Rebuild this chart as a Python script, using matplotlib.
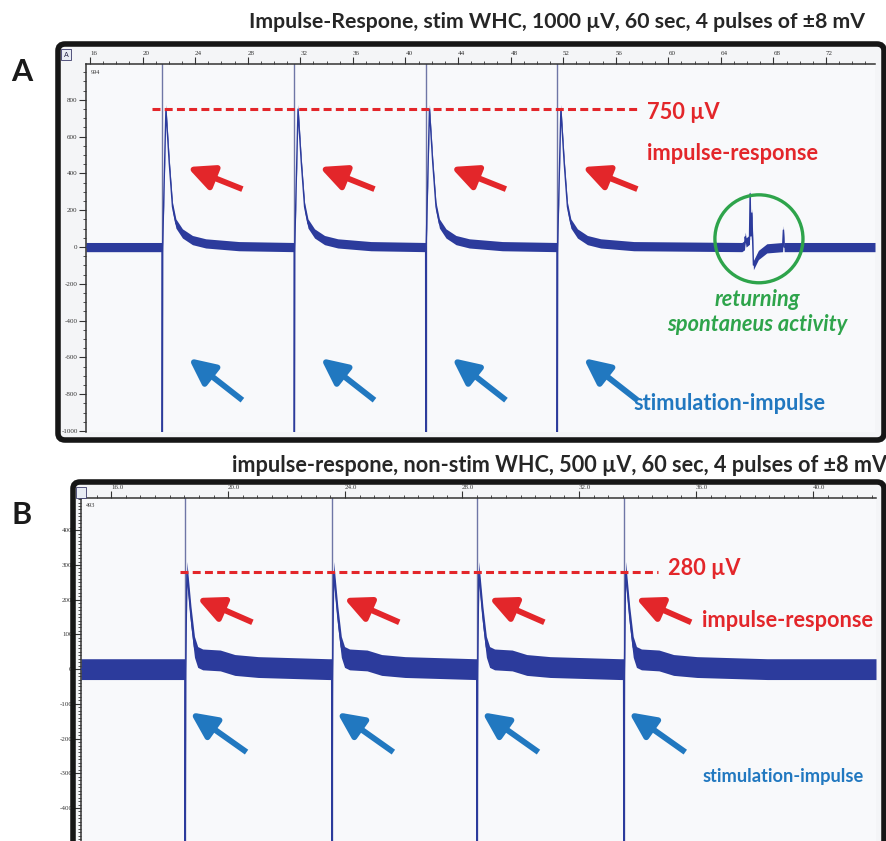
import numpy as np
import matplotlib
matplotlib.use("Agg")
import matplotlib.pyplot as plt
from matplotlib.patches import FancyBboxPatch, Ellipse, Rectangle
from matplotlib.ticker import MultipleLocator, FormatStrFormatter

plt.rcParams["axes.unicode_minus"] = False

W, H = 887, 841

# ---------------- data ----------------
# Panel A: stimulated WHC, 4 pulses every ~10 s
A_xlim = (15.7, 75.73)
A_ylim = (-1005, 995)
A_stim_times = [21.5, 31.55, 41.55, 51.55]
A_resp_t = [-0.01, 0.0, 0.03, 0.28, 0.53, 0.78, 1.04, 1.54, 2.30, 3.31, 5.83]
A_resp_v = [0, -1150, 0, 750, 460, 219, 128, 74, 38, 20, 5]
A_spont_t = [65.6, 65.8, 65.86, 65.92, 66.18, 66.23, 66.29, 66.36, 66.42, 66.48, 66.86, 67.5, 68.7, 68.76, 68.82]
A_spont_v = [0, 10, 56, 25, 40, 290, 60, 185, 40, -98, -43, -7, 0, 92, 0]
A_noise = 25
A_peak_label = 750

# Panel B: non-stimulated WHC, 4 pulses every ~5 s
B_xlim = (14.97, 42.15)
B_ylim = (-521, 493)
B_stim_times = [18.53, 23.55, 28.51, 33.53]
B_resp_t = [-0.01, 0.0, 0.02, 0.06, 0.2, 0.32, 0.43, 0.6, 1.2, 1.7, 2.5, 4.9]
B_resp_v = [0, -600, 0, 280, 151, 64, 35, 28, 25, 12, 6, 0]
B_noise = 30
B_peak_label = 280

A_xticks = list(range(16, 76, 4))
A_yticks = list(range(-1000, 801, 200))
B_xticks = [16.0, 20.0, 24.0, 28.0, 32.0, 36.0, 40.0]
B_yticks = list(range(-400, 401, 100))

title_A = "Impulse-Respone, stim WHC, 1000 µV, 60 sec, 4 pulses of ±8 mV"
title_B = "impulse-respone, non-stim WHC, 500 µV, 60 sec, 4 pulses of ±8 mV"

RED = "#e3262a"
BLUE = "#2178c0"
GREEN = "#2ea44b"
TRACE = "#2c3b9c"
STIM = "#6f76a6"
FONT = ["Lato", "DejaVu Sans"]

fig = plt.figure(figsize=(W / 100, H / 100), dpi=100)
fig.patch.set_facecolor("white")


def fx(x):
    return x / W


def fy(y):
    return 1 - y / H


renderer = fig.canvas.get_renderer()


def fit_size(s, width, **kw):
    t = fig.text(0, 0, s, fontsize=10, **kw)
    w = t.get_window_extent(renderer).width
    t.remove()
    return 10 * width / w


def fit_text(x, y, s, width, ha="left", va="baseline", **kw):
    size = fit_size(s, width, **kw)
    return fig.text(fx(x), fy(y), s, ha=ha, va=va, fontsize=size, **kw)


def frame(x0, y0, x1, y1):
    kw = dict(boxstyle="round,pad=0,rounding_size=0.008", transform=fig.transFigure)
    back = FancyBboxPatch((fx(x0), fy(y1)), fx(x1 - x0), (y1 - y0) / H,
                          facecolor="#f4f5f7", edgecolor="none", zorder=-2, **kw)
    edge = FancyBboxPatch((fx(x0), fy(y1)), fx(x1 - x0), (y1 - y0) / H,
                          facecolor="none", edgecolor="#161616", linewidth=4.0,
                          zorder=5, **kw)
    fig.patches.append(back)
    fig.patches.append(edge)


def build_trace(xlim, stims, rel_t, rel_v, extra_t=(), extra_v=()):
    t = [xlim[0]]
    v = [0.0]
    for s in stims:
        t += [s + r for r in rel_t]
        v += list(rel_v)
    t += list(extra_t)
    v += list(extra_v)
    t.append(xlim[1])
    v.append(0.0)
    t = np.array(t)
    v = np.array(v, dtype=float)
    order = np.argsort(t, kind="stable")
    return t[order], v[order]


def style_axes(ax, xlim, ylim, xticks, yticks, xminor, yminor, xfmt):
    ax.set_xlim(*xlim)
    ax.set_ylim(*ylim)
    ax.set_facecolor("#f8f9fb")
    ax.xaxis.tick_top()
    ax.set_xticks(xticks)
    ax.set_yticks(yticks)
    ax.xaxis.set_minor_locator(MultipleLocator(xminor))
    ax.yaxis.set_minor_locator(MultipleLocator(yminor))
    ax.xaxis.set_major_formatter(FormatStrFormatter(xfmt))
    for sp in ("right", "bottom"):
        ax.spines[sp].set_visible(False)
    for sp in ("left", "top"):
        ax.spines[sp].set_color("#333333")
        ax.spines[sp].set_linewidth(1.1)
    ax.tick_params(axis="both", which="major", length=5, width=0.8, color="#333333",
                   labelsize=5, labelcolor="#333333", pad=1)
    ax.tick_params(axis="both", which="minor", length=2.5, width=0.6, color="#333333")
    for lab in ax.get_xticklabels():
        lab.set_horizontalalignment("left")
        lab.set_family("Liberation Serif")
    for lab in ax.get_yticklabels():
        lab.set_family("Liberation Serif")


def draw_trace(ax, t, v, hw, stims):
    for s in stims:
        ax.axvline(s, color=STIM, lw=1.0, zorder=1)
    ax.fill_between(t, v - hw, v + hw, color=TRACE, lw=0, zorder=2)
    ax.plot(t, v, color=TRACE, lw=1.0, zorder=3)


def arrow(ax, tip, tail, color):
    ax.annotate("", xy=tip, xytext=tail, xycoords="data", textcoords="data",
                annotation_clip=False,
                arrowprops=dict(arrowstyle="-|>,head_length=1.05,head_width=0.5",
                                mutation_scale=15, lw=4.2, color=color,
                                shrinkA=0, shrinkB=0, capstyle="butt"),
                zorder=6)


# ---------------- panel A ----------------
frame(58, 44, 884, 440)
axA = fig.add_axes([fx(86), fy(432), fx(875 - 86), (432 - 64) / H])
style_axes(axA, A_xlim, A_ylim, A_xticks, A_yticks, 1, 50, "%d")
tA, vA = build_trace(A_xlim, A_stim_times, A_resp_t, A_resp_v, A_spont_t, A_spont_v)
draw_trace(axA, tA, vA, A_noise, A_stim_times)
axA.text(0.006, 0.985, "994", transform=axA.transAxes, fontsize=4.5,
         family="Liberation Serif", va="top", color="#333333")

axA.plot([20.72, 57.86], [A_peak_label, A_peak_label], color=RED, lw=2.2,
         ls=(0, (2.6, 1.4)), zorder=5)
for s in A_stim_times:
    arrow(axA, (s + 1.9, 435), (s + 6.1, 315), RED)
    arrow(axA, (s + 2.0, -603), (s + 6.1, -832), BLUE)
axA.add_patch(Ellipse((66.9, 45), 6.7, 478, fill=False, edgecolor=GREEN, lw=2.4, zorder=6))

# ---------------- panel B ----------------
frame(73, 482, 884, 870)
axB = fig.add_axes([fx(81), fy(850), fx(876 - 81), (850 - 498) / H])
style_axes(axB, B_xlim, B_ylim, B_xticks, B_yticks, 0.5, 10, "%.1f")
axB.tick_params(axis="y", which="minor", length=2)
tB, vB = build_trace(B_xlim, B_stim_times, B_resp_t, B_resp_v)
draw_trace(axB, tB, vB, B_noise, B_stim_times)
axB.text(0.006, 0.985, "493", transform=axB.transAxes, fontsize=4.5,
         family="Liberation Serif", va="top", color="#333333")

axB.plot([18.35, 34.7], [B_peak_label, B_peak_label], color=RED, lw=2.2,
         ls=(0, (2.6, 1.4)), zorder=5)
for s in B_stim_times:
    arrow(axB, (s + 0.4, 205), (s + 2.3, 135), RED)
    arrow(axB, (s + 0.17, -124), (s + 2.1, -239), BLUE)

# small window icons in the corners of the recordings
for (x0, y0) in [(61, 49), (76, 487)]:
    fig.patches.append(Rectangle((fx(x0), fy(y0 + 11)), fx(10), 11 / H,
                                 transform=fig.transFigure, facecolor="#e8ecf4",
                                 edgecolor="#3a3a6a", lw=0.6, zorder=6))
fig.text(fx(66), fy(55), "A", fontsize=5, ha="center", va="center", color="#222244", zorder=7)

# ---------------- text ----------------
fit_text(249, 28, title_A, 619, family=FONT, weight="bold", color="#262626")
fit_text(232, 472, title_B, 653, family=FONT, weight="bold", color="#262626")

fig.text(fx(22), fy(72), "A", fontsize=22, weight="bold", family=FONT,
         ha="center", va="center", color="#1a1a1a")
fig.text(fx(22), fy(515), "B", fontsize=22, weight="bold", family=FONT,
         ha="center", va="center", color="#1a1a1a")

lab_size = fit_size("impulse-response", 171, family=FONT, weight="bold")
lab = dict(family=FONT, weight="bold", fontsize=lab_size, va="baseline")

fig.text(fx(647), fy(119), f"{A_peak_label} µV", color=RED, **lab)
fig.text(fx(647), fy(160), "impulse-response", color=RED, **lab)
fig.text(fx(633), fy(410), "stimulation-impulse", color=BLUE, **lab)
fig.text(fx(757), fy(306), "returning", color=GREEN, ha="center", style="italic", **lab)
fig.text(fx(757), fy(331), "spontaneus activity", color=GREEN, ha="center", style="italic", **lab)

fig.text(fx(668), fy(575), f"{B_peak_label} µV", color=RED, **lab)
fig.text(fx(702), fy(627), "impulse-response", color=RED, **lab)
fit_text(703, 782, "stimulation-impulse", 161, family=FONT, weight="bold", color=BLUE)

fig.savefig("out.png", dpi=100)
